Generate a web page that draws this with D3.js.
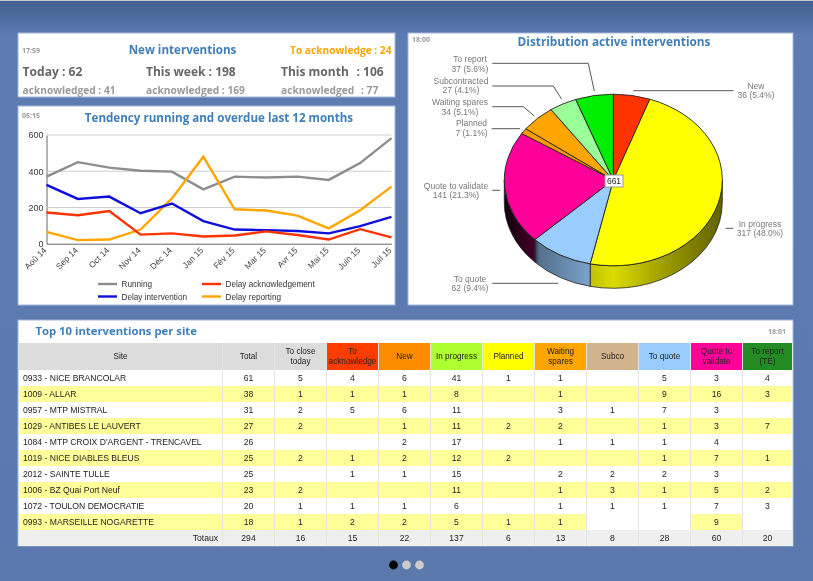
<!DOCTYPE html>
<html>
<head>
<meta charset="utf-8">
<title>Interventions dashboard</title>
<script src="https://cdn.jsdelivr.net/npm/d3@7"></script>
<style>
      html, body { margin: 0; padding: 0; }
      html { background: #5b79ad; }
      body { width: 813px; height: 581px; overflow: hidden; position: relative; font-family: "Liberation Sans", Arial, sans-serif; filter: blur(0.35px);
            background: linear-gradient(#c8c8c8 0, #c8c8c8 1px, #41608f 1px, #5d7cb2 36px, #5b79ad 100%); }
      svg { position: absolute; left: 0; top: 0; }
      #tableMainData { position: absolute; left: 19px; top: 343px; width: 774px; }
      table { border-collapse: separate; border-spacing: 0; table-layout: fixed; width: 774px; font-size: 8.6px; color: #222; }
      th { font-weight: normal; font-size: 8.2px; height: 27px; padding: 0; box-sizing: border-box; border-right: 1.5px solid #e4e4e4; line-height: 10px; }
      td { height: 16px; padding: 0; box-sizing: border-box; text-align: center; border-right: 1.5px solid #e4e4e4; }
      td.site { text-align: left; padding-left: 4px; }
      tr.total td { background: #efefef; height: 16px; }
      tr.total td.site { text-align: right; padding-right: 4px; }
</style>
</head>
<body>
<svg id="board" width="813" height="581"></svg>
<div id="tableMainData"></div>
<script>
      // line chart
      const months = ['Aoû 14', 'Sep 14', 'Oct 14', 'Nov 14', 'Déc 14', 'Jan 15', 'Fév 15', 'Mar 15', 'Avr 15', 'Mai 15', 'Juin 15', 'Juil 15'];
      const running = [370, 450, 420, 403, 398, 300, 370, 365, 370, 352, 445, 583];
      const delayAck = [172, 157, 180, 50, 57, 40, 45, 68, 48, 23, 80, 35];
      const delayIntervention = [325, 247, 260, 168, 222, 125, 78, 75, 70, 57, 97, 148];
      const delayReporting = [65, 20, 23, 78, 250, 480, 190, 183, 155, 85, 185, 315];
      const yTicks = [0, 200, 400, 600];

      // pie
      const pieNames = ['New', 'In progress', 'To quote', 'Quote to validate', 'Planned', 'Waiting spares', 'Subcontracted', 'To report'];
      const pieValues = [36, 317, 62, 141, 7, 34, 27, 37];
      const piePercents = ['5.4%', '48.0%', '9.4%', '21.3%', '1.1%', '5.1%', '4.1%', '5.6%'];
      const pieTotal = 661;

      // table
      const tableHeaders = ['Site', 'Total', 'To close today', 'To acknowledge', 'New', 'In progress', 'Planned', 'Waiting spares', 'Subco', 'To quote', 'Quote to validate', 'To report (TE)'];
      const siteNames = ['0933 - NICE BRANCOLAR', '1009 - ALLAR', '0957 - MTP MISTRAL', '1029 - ANTIBES LE LAUVERT', "1084 - MTP CROIX D'ARGENT - TRENCAVEL", '1019 - NICE DIABLES BLEUS', '2012 - SAINTE TULLE', '1006 - BZ Quai Port Neuf', '1072 - TOULON DEMOCRATIE', '0993 - MARSEILLE NOGARETTE'];
      const siteValues = [
            [61, 5, 4, 6, 41, 1, 1, null, 5, 3, 4],
            [38, 1, 1, 1, 8, null, 1, null, 9, 16, 3],
            [31, 2, 5, 6, 11, null, 3, 1, 7, 3, null],
            [27, 2, null, 1, 11, 2, 2, null, 1, 3, 7],
            [26, null, null, 2, 17, null, 1, 1, 1, 4, null],
            [25, 2, 1, 2, 12, 2, null, null, 1, 7, 1],
            [25, null, 1, 1, 15, null, 2, 2, 2, 3, null],
            [23, 2, null, null, 11, null, 1, 3, 1, 5, 2],
            [20, 1, 1, 1, 6, null, 1, 1, 1, 7, 3],
            [18, 1, 2, 2, 5, 1, 1, null, null, 9, null]
      ];
      const siteTotals = [294, 16, 15, 22, 137, 6, 13, 8, 28, 60, 20];

      const BLUE_TITLE = '#3f7fb9';
      const svg = d3.select('#board');

      // white panels
      const panels = [[18, 33, 377, 64], [18, 106, 377, 199], [408, 33, 385, 272], [18, 320, 775, 226]];
      svg.selectAll('rect.panel')
            .data(panels)
            .enter()
            .append('rect')
            .attr('class', 'panel')
            .attr('x', d => d[0])
            .attr('y', d => d[1])
            .attr('width', d => d[2])
            .attr('height', d => d[3])
            .attr('fill', 'white')
            .attr('stroke', '#a4b6d8');

      function label(x, y, str, size, color, opts){
            opts = opts || {};
            return svg.append('text')
                  .attr('x', x)
                  .attr('y', y)
                  .attr('font-size', size)
                  .attr('font-weight', opts.weight || 'bold')
                  .attr('font-family', opts.family || '"Open Sans", sans-serif')
                  .attr('text-anchor', opts.anchor || 'start')
                  .attr('fill', color)
                  .text(str);
      }

      // KPI panel
      label(22, 53, '17:59', 7, '#999');
      label(182.5, 54, 'New interventions', 11.6, BLUE_TITLE, {anchor: 'middle'});
      label(391.5, 53.5, 'To acknowledge : 24', 10.2, '#ffa500', {anchor: 'end'});
      label(22.5, 75.5, 'Today : 62', 12.1, '#666');
      label(146, 75.5, 'This week : 198', 12, '#666');
      label(281, 75.5, 'This month', 12, '#666');
      label(356.5, 75.5, ': 106', 12, '#666');
      label(22.5, 93.5, 'acknowledged : 41', 10.2, '#999');
      label(146, 93.5, 'acknowledged : 169', 10.2, '#999');
      label(281, 93.5, 'acknowledged', 10.2, '#999');
      label(361, 93.5, ': 77', 10.2, '#999');

      // line chart
      label(22, 118, '05:15', 7, '#999');
      label(219, 122, 'Tendency running and overdue last 12 months', 11.6, BLUE_TITLE, {anchor: 'middle'});

      const x = d3.scalePoint().domain(months).range([46.5, 391.5]);
      const y = d3.scaleLinear().domain([0, 600]).range([243.7, 135]);

      svg.append('g')
            .attr('transform', 'translate(46.5,0)')
            .call(d3.axisLeft(y).tickValues(yTicks).tickSize(0).tickPadding(3))
            .call(g => g.select('.domain').attr('stroke', '#666').attr('stroke-width', 1))
            .call(g => g.selectAll('text').attr('font-size', 9).attr('font-family', '"Liberation Sans"').attr('fill', '#333'));

      svg.selectAll('line.grid')
            .data(yTicks.filter(d => d > 0))
            .enter()
            .append('line')
            .attr('class', 'grid')
            .attr('x1', 46.5)
            .attr('x2', 391.5)
            .attr('y1', d => y(d))
            .attr('y2', d => y(d))
            .attr('stroke', '#ccc');

      svg.append('g')
            .attr('transform', 'translate(0,243.7)')
            .call(d3.axisBottom(x).tickSize(0))
            .call(g => g.select('.domain').attr('stroke', '#666').attr('stroke-width', 1))
            .call(g => g.selectAll('text')
                  .attr('font-size', 8.5)
                  .attr('font-family', '"Liberation Sans"')
                  .attr('fill', '#444')
                  .attr('text-anchor', 'end')
                  .attr('x', -5)
                  .attr('y', 5.2)
                  .attr('dy', 0)
                  .attr('transform', 'rotate(-45)'));

      const lineSeries = [
            {name: 'Running', values: running, color: '#8c8c8c', lx: 98, ly: 284},
            {name: 'Delay reporting', values: delayReporting, color: '#ffa500', lx: 202, ly: 296.5},
            {name: 'Delay intervention', values: delayIntervention, color: '#0f0fdc', lx: 98, ly: 296.5},
            {name: 'Delay acknowledgement', values: delayAck, color: '#ff3300', lx: 202, ly: 284}
      ];
      const lineGen = d3.line().x((d, i) => x(months[i])).y(d => y(d));

      svg.selectAll('path.series')
            .data(lineSeries)
            .enter()
            .append('path')
            .attr('class', 'series')
            .attr('d', d => lineGen(d.values))
            .attr('fill', 'none')
            .attr('stroke', d => d.color)
            .attr('stroke-width', 2.4);

      let legend = svg.selectAll('g.legend')
            .data(lineSeries)
            .enter()
            .append('g')
            .attr('class', 'legend')
            .attr('transform', d => 'translate(' + d.lx + ',' + d.ly + ')');
      legend.append('line').attr('x2', 19).attr('stroke', d => d.color).attr('stroke-width', 2.4);
      legend.append('text')
            .attr('x', 23.5)
            .attr('y', 3)
            .attr('font-size', 8.2)
            .attr('font-family', '"Liberation Sans"')
            .attr('fill', '#333')
            .text(d => d.name);

      // 3d pie
      label(412, 42, '18:00', 7, '#999');
      label(614, 46, 'Distribution active interventions', 11.8, BLUE_TITLE, {anchor: 'middle'});

      const pieColors = ['#ff3300', '#ffff00', '#99ccff', '#ff0099', '#ff9900', '#ffa500', '#99ff99', '#00ee00'];
      const cx = 613.3, cy = 180, rx = 109, ry = 85.8, depth = 22.5;
      const pieData = d3.pie().sort(null)(pieValues);
      const px = a => cx + rx * Math.sin(a);
      const py = a => cy - ry * Math.cos(a);

      // darkening of the rim along the width of the pie
      const rimShade = [[0, 0.08], [0.14, 0.26], [0.16, 0.55], [0.39, 0.8], [0.4, 0.76], [0.5, 0.86], [0.75, 0.6], [1, 0.38]];
      const defs = svg.append('defs');
      pieData.forEach(function(d, i){
            const grad = defs.append('linearGradient')
                  .attr('id', 'rim' + i)
                  .attr('gradientUnits', 'userSpaceOnUse')
                  .attr('x1', cx - rx)
                  .attr('x2', cx + rx)
                  .attr('y1', 0)
                  .attr('y2', 0);
            rimShade.forEach(function(s){
                  const c = d3.rgb(pieColors[i]);
                  grad.append('stop')
                        .attr('offset', s[0])
                        .attr('stop-color', d3.rgb(c.r * s[1], c.g * s[1], c.b * s[1]));
            });
      });

      // rim is only seen on the lower half of the ellipse
      pieData.forEach(function(d, i){
            const a0 = Math.max(d.startAngle, Math.PI / 2);
            const a1 = Math.min(d.endAngle, Math.PI * 1.5);
            if (a1 <= a0) return;
            const rimPath = 'M' + px(a0) + ',' + py(a0)
                  + 'A' + rx + ',' + ry + ' 0 0 1 ' + px(a1) + ',' + py(a1)
                  + 'L' + px(a1) + ',' + (py(a1) + depth)
                  + 'A' + rx + ',' + ry + ' 0 0 0 ' + px(a0) + ',' + (py(a0) + depth) + 'Z';
            svg.append('path')
                  .attr('d', rimPath)
                  .attr('fill', 'url(#rim' + i + ')')
                  .attr('stroke', '#222')
                  .attr('stroke-width', 0.8);
      });

      const arc = d3.arc().innerRadius(0).outerRadius(rx);
      svg.append('g')
            .attr('transform', 'translate(' + cx + ',' + cy + ') scale(1,' + (ry / rx) + ')')
            .selectAll('path')
            .data(pieData)
            .enter()
            .append('path')
            .attr('d', arc)
            .attr('fill', (d, i) => pieColors[i])
            .attr('stroke', '#222')
            .attr('stroke-width', 0.9)
            .attr('vector-effect', 'non-scaling-stroke');

      // labels and leaders, same order as pieNames
      const labelPos = [
            {x: 756, y: 88.5, lead: [[633.3, 90.7], [733.3, 90.7]]},
            {x: 760, y: 226.5, lead: [[725.7, 228.3], [733.3, 228.3]]},
            {x: 470, y: 281.5, lead: [[492.3, 283.3], [558.3, 283.3]]},
            {x: 456, y: 188.5, lead: [[492.3, 190.3], [500, 190.3]]},
            {x: 471.5, y: 126, lead: [[491.7, 128.7], [520, 128.7]]},
            {x: 460, y: 105, lead: [[492.3, 106.7], [523.3, 106.7], [534.3, 116]]},
            {x: 461, y: 83.5, lead: [[492.3, 86], [553.3, 86], [561.7, 99.3]]},
            {x: 470, y: 62, lead: [[492.3, 63.3], [588.3, 63.3], [594.3, 91]]}
      ];
      pieNames.forEach(function(name, i){
            const pos = labelPos[i];
            svg.append('path')
                  .attr('d', d3.line()(pos.lead))
                  .attr('fill', 'none')
                  .attr('stroke', '#555')
                  .attr('stroke-width', 1);
            const t = svg.append('text')
                  .attr('font-size', 8.5)
                  .attr('font-family', '"Liberation Sans"')
                  .attr('fill', '#777')
                  .attr('text-anchor', 'middle');
            t.append('tspan').attr('x', pos.x).attr('y', pos.y).text(name);
            t.append('tspan').attr('x', pos.x).attr('y', pos.y + 9.6).text(pieValues[i] + ' (' + piePercents[i] + ')');
      });

      svg.append('rect')
            .attr('x', 605)
            .attr('y', 175)
            .attr('width', 18)
            .attr('height', 12)
            .attr('fill', 'white')
            .attr('stroke', '#999');
      svg.append('text')
            .attr('x', 614)
            .attr('y', 184)
            .attr('text-anchor', 'middle')
            .attr('font-size', 8.5)
            .attr('font-family', '"Liberation Sans"')
            .attr('fill', '#222')
            .text(pieTotal);

      // table
      label(35.5, 335, 'Top 10 interventions per site', 11.3, BLUE_TITLE);
      label(786, 334, '18:01', 7, '#999', {anchor: 'end'});

      const headerColors = ['#dcdcdc', '#dcdcdc', '#dcdcdc', '#ff3c00', '#ff8c00', '#adff2f', '#ffff00', '#ffa500', '#d2b48c', '#99ccff', '#ff0099', '#228b22'];
      const widths = [204, 52, 52, 52, 52, 52, 52, 52, 52, 52, 52, 50];

      let table = d3.select('#tableMainData').append('table');
      table.append('colgroup')
            .selectAll('col')
            .data(widths)
            .enter()
            .append('col')
            .style('width', d => d + 'px');

      table.append('thead').append('tr')
            .selectAll('th')
            .data(tableHeaders)
            .enter()
            .append('th')
            .style('background-color', (d, i) => headerColors[i])
            .text(d => d);

      let tbody = table.append('tbody');
      let rows = tbody.selectAll('tr')
            .data(siteNames)
            .enter()
            .append('tr');

      rows.append('td')
            .attr('class', 'site')
            .style('background-color', (d, i) => i % 2 ? '#ffff99' : 'white')
            .text(d => d);

      rows.each(function(name, r){
            d3.select(this).selectAll('td.val')
                  .data(siteValues[r])
                  .enter()
                  .append('td')
                  .attr('class', 'val')
                  .style('background-color', function(d){
                        // last row keeps its empty cells white
                        if (r === 9) return d === null ? 'white' : '#ffff99';
                        return r % 2 ? '#ffff99' : 'white';
                  })
                  .text(d => d === null ? '' : d);
      });

      let totalRow = tbody.append('tr').attr('class', 'total');
      totalRow.append('td').attr('class', 'site').text('Totaux');
      totalRow.selectAll('td.val')
            .data(siteTotals)
            .enter()
            .append('td')
            .attr('class', 'val')
            .text(d => d);

      // page dots
      svg.selectAll('circle.dot')
            .data(['#000', '#ccc', '#ccc'])
            .enter()
            .append('circle')
            .attr('class', 'dot')
            .attr('cx', (d, i) => 393.5 + i * 13)
            .attr('cy', 565)
            .attr('r', 4.4)
            .attr('fill', d => d);
</script>
</body>
</html>
